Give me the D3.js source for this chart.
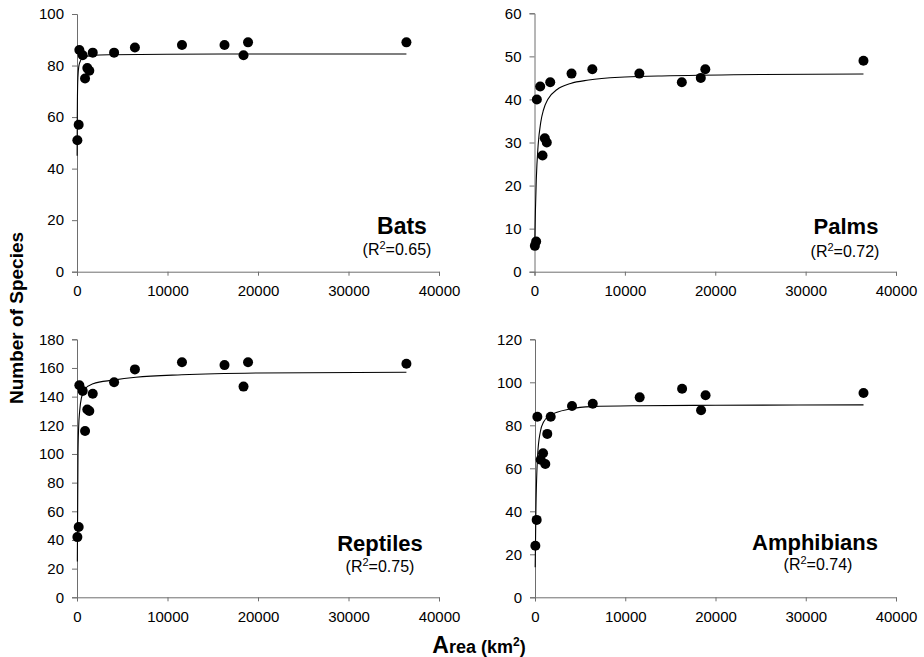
<!DOCTYPE html>
<html>
<head>
<meta charset="utf-8">
<script src="https://cdn.jsdelivr.net/npm/d3@7"></script>
<style>
  html, body { margin: 0; padding: 0; background: #fff; }
  svg { display: block; font-family: "Liberation Sans", Arial, sans-serif; }
  .tick text { font-size: 15px; fill: #000; }
  .domain, .tick line { stroke: #6e6e6e; stroke-width: 1; }
</style>
</head>
<body>
<svg id="chart" width="924" height="657"></svg>
<script>
// ---------- data ----------
const areas = [40, 185, 260, 630, 890, 1140, 1360, 1740, 4100, 6400, 11600, 16300, 18400, 18900, 36400];

const batsSpecies       = [51, 57, 86, 84, 75, 79, 78, 85, 85, 87, 88, 88, 84, 89, 89];
const palmsSpecies      = [6, 7, 40, 43, 27, 31, 30, 44, 46, 47, 46, 44, 45, 47, 49];
const reptilesSpecies   = [42, 49, 148, 144, 116, 131, 130, 142, 150, 159, 164, 162, 147, 164, 163];
const amphibiansSpecies = [24, 36, 84, 64, 67, 62, 76, 84, 89, 90, 93, 97, 87, 94, 95];

// fitted curves: [area, species]
const batsCurve = [[14,45],[30,60],[50,68],[100,75.4],[200,79.7],[400,82],[700,83.1],[1000,83.5],[1500,83.8],[2500,84.1],[4000,84.2],[10000,84.4],[20000,84.5],[36400,84.5]];
const palmsCurve = [[30,5.3],[60,9.6],[100,14],[200,21.5],[400,29.3],[700,34.8],[1000,37.6],[1500,40.1],[2500,42.3],[4000,43.7],[6000,44.5],[10000,45.2],[15000,45.5],[25000,45.8],[36400,45.9]];
const reptilesCurve = [[37,25],[110,100],[185,119],[295,130],[480,139],[850,145],[1770,149],[4000,151.5],[6500,153.5],[11600,155.3],[20000,156.5],[36400,157]];
const amphibiansCurve = [[20,14],[100,40],[290,66],[590,77],[950,81.5],[1680,84.7],[3900,87.6],[6300,88.7],[11600,89.1],[20000,89.3],[36400,89.5]];

const panelNames = ["Bats", "Palms", "Reptiles", "Amphibians"];
const rSquared   = ["0.65", "0.72", "0.75", "0.74"];
const yMax       = [100, 60, 180, 120];
const yStep      = [20, 10, 20, 20];
const xTicks     = [0, 10000, 20000, 30000, 40000];

// ---------- layout ----------
const panels = [
  { name: panelNames[0], r2: rSquared[0], ys: batsSpecies, curve: batsCurve, ymax: yMax[0], step: yStep[0],
    x0: 77, x1: 439, yTop: 14, yBot: 271.7, tx: 402, ty: 234, rx: 397, ry: 255, fs: 23 },
  { name: panelNames[1], r2: rSquared[1], ys: palmsSpecies, curve: palmsCurve, ymax: yMax[1], step: yStep[1],
    x0: 534.5, x1: 896, yTop: 13.3, yBot: 271.7, tx: 846, ty: 234, rx: 845, ry: 257, fs: 22 },
  { name: panelNames[2], r2: rSquared[2], ys: reptilesSpecies, curve: reptilesCurve, ymax: yMax[2], step: yStep[2],
    x0: 77, x1: 439, yTop: 339.3, yBot: 597.3, tx: 380, ty: 551, rx: 380, ry: 572, fs: 22 },
  { name: panelNames[3], r2: rSquared[3], ys: amphibiansSpecies, curve: amphibiansCurve, ymax: yMax[3], step: yStep[3],
    x0: 535, x1: 896, yTop: 339.3, yBot: 597.3, tx: 815, ty: 550, rx: 818, ry: 570, fs: 22 }
];

const svg = d3.select("#chart");

panels.forEach(p => {
  const x = d3.scaleLinear().domain([0, 40000]).range([p.x0, p.x1]);
  const y = d3.scaleLinear().domain([0, p.ymax]).range([p.yBot, p.yTop]);
  const g = svg.append("g");

  g.append("g")
    .attr("transform", `translate(0,${p.yBot})`)
    .call(d3.axisBottom(x).tickValues(xTicks).tickFormat(d3.format("d")).tickSize(4).tickPadding(10));

  g.append("g")
    .attr("transform", `translate(${p.x0},0)`)
    .call(d3.axisLeft(y).tickValues(d3.range(0, p.ymax + 0.001, p.step)).tickFormat(d3.format("d")).tickSize(5).tickPadding(8));

  g.append("path")
    .datum(p.curve)
    .attr("fill", "none")
    .attr("stroke", "#000")
    .attr("stroke-width", 1.1)
    .attr("d", d3.line().x(d => x(d[0])).y(d => y(d[1])).curve(d3.curveMonotoneX));

  g.selectAll("circle")
    .data(areas.map((a, i) => [a, p.ys[i]]))
    .join("circle")
    .attr("cx", d => x(d[0]))
    .attr("cy", d => y(d[1]))
    .attr("r", 5)
    .attr("fill", "#000");

  g.append("text")
    .attr("x", p.tx).attr("y", p.ty)
    .attr("text-anchor", "middle")
    .attr("font-weight", "bold")
    .attr("font-size", p.fs)
    .text(p.name);

  const t = g.append("text")
    .attr("x", p.rx).attr("y", p.ry)
    .attr("text-anchor", "middle")
    .attr("font-size", 16);
  t.append("tspan").text("(R");
  t.append("tspan").attr("font-size", 11).attr("dy", -6).text("2");
  t.append("tspan").attr("dy", 6).text("=" + p.r2 + ")");
});

// axis titles
svg.append("text")
  .attr("transform", "translate(23,318) rotate(-90)")
  .attr("text-anchor", "middle")
  .attr("font-weight", "bold")
  .attr("font-size", 19)
  .text("Number of Species");

const xt = svg.append("text")
  .attr("x", 479).attr("y", 653)
  .attr("text-anchor", "middle")
  .attr("font-weight", "bold")
  .attr("font-size", 18);
xt.append("tspan").attr("font-size", 23).text("A");
xt.append("tspan").text("rea (km");
xt.append("tspan").attr("font-size", 12).attr("dy", -7).text("2");
xt.append("tspan").attr("dy", 7).text(")");
</script>
</body>
</html>
